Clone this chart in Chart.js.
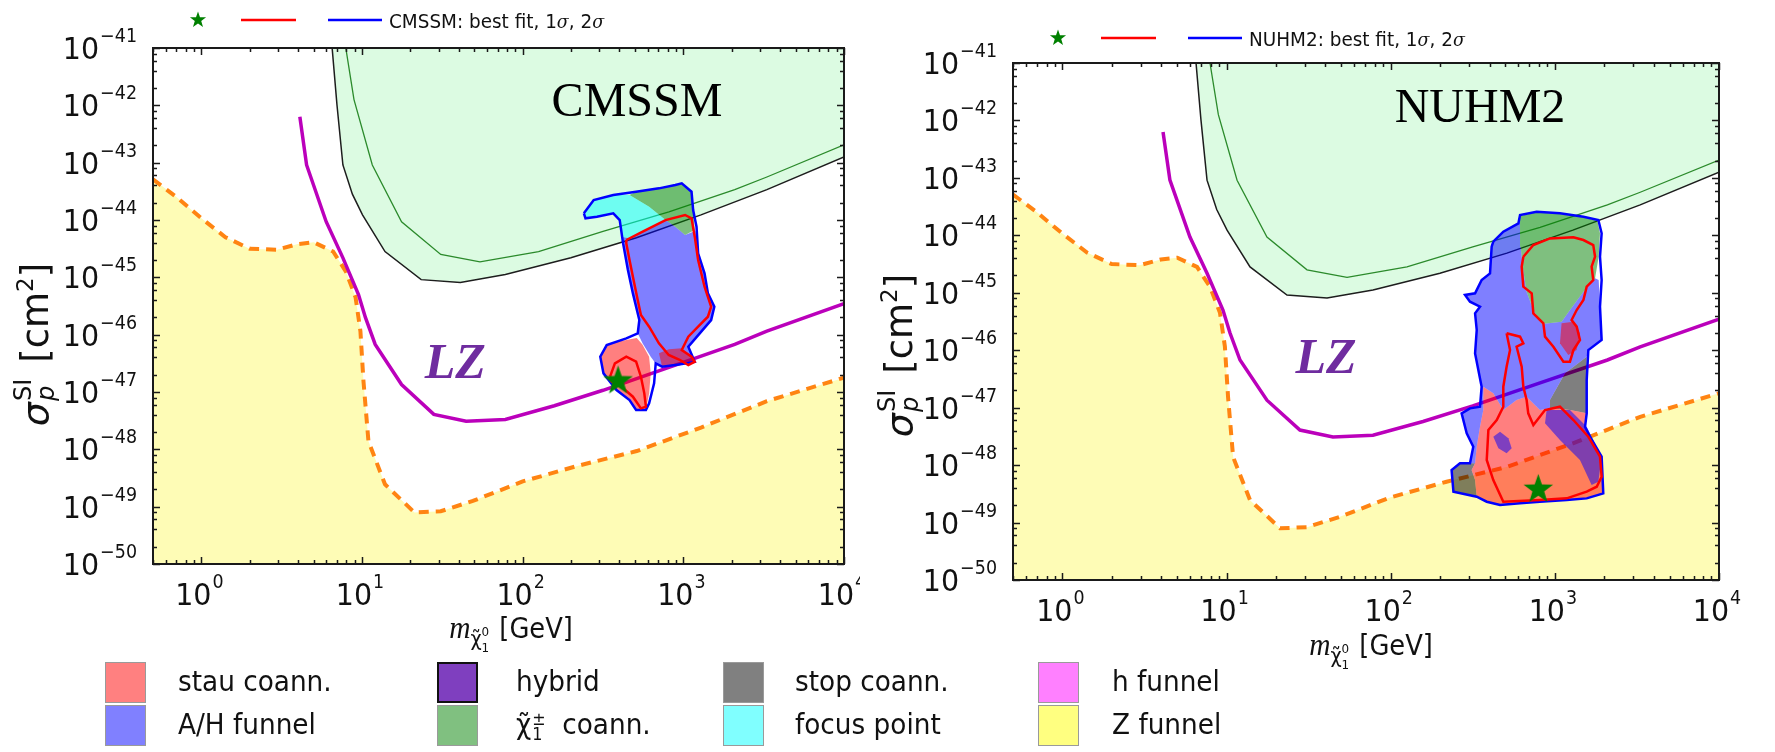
<!DOCTYPE html>
<html>
<head>
<meta charset="utf-8">
<script src="https://cdn.jsdelivr.net/npm/chart.js@4.4.1/dist/chart.umd.min.js"></script>
<style>
  html, body { margin: 0; padding: 0; background: #fff; width: 1775px; height: 752px; overflow: hidden; }
  body { position: relative; font-family: "DejaVu Sans", sans-serif; }
  canvas { position: absolute; top: 0; }
  #cmssm { left: 0; }
  #nuhm2 { left: 860px; }
  .sw { position: absolute; width: 41px; height: 41px; box-sizing: border-box; border: 1.5px solid #9a9a9a; }
  .lab { position: absolute; font-size: 28px; color: #111; line-height: 28px; white-space: nowrap;
         transform: scaleX(0.94); transform-origin: left center; }
  .ss { display: inline-block; vertical-align: -6px; font-size: 17px; line-height: 15px; margin-left: 1px; }
  .ss span { display: block; }
</style>
</head>
<body>
<canvas id="cmssm" width="860" height="752"></canvas>
<canvas id="nuhm2" width="915" height="752"></canvas>
<div id="legend"></div>
<script>
// all points are [log10(m / GeV), log10(sigma / cm^2)]

// limits shared by both panels
const lzLimit = [[0.613,-42.20],[0.655,-43.04],[0.777,-44.03],[0.881,-44.66],[0.978,-45.30],[1.021,-45.70],
  [1.082,-46.17],[1.246,-46.87],[1.447,-47.39],[1.648,-47.51],[1.892,-47.48],[2.197,-47.24],[2.50,-46.97],
  [2.91,-46.57],[3.32,-46.17],[3.52,-45.94],[4.0,-45.46]];
const zFunnelEdge = [[-0.301,-43.29],[-0.155,-43.60],[0.0,-43.97],[0.15,-44.30],[0.3,-44.50],[0.47,-44.52],
  [0.6,-44.42],[0.7,-44.39],[0.82,-44.55],[0.9,-44.9],[0.96,-45.35],[0.99,-45.94],[1.009,-46.81],[1.04,-47.86],
  [1.143,-48.61],[1.326,-49.10],[1.49,-49.08],[1.69,-48.90],[2.0,-48.56],[2.34,-48.29],[2.71,-48.03],
  [3.11,-47.62],[3.52,-47.16],[4.0,-46.75]];
const limitBlack = [[0.79,-40.8],[0.814,-41.0],[0.844,-41.99],[0.881,-43.04],[0.94,-43.55],[1.003,-43.91],
  [1.143,-44.55],[1.368,-45.04],[1.612,-45.09],[1.892,-44.95],[2.30,-44.66],[2.708,-44.31],[3.11,-43.91],
  [3.52,-43.47],[4.0,-42.90]];
const limitGreen = [[0.88,-40.8],[0.899,-41.0],[0.95,-41.9],[1.064,-43.04],[1.246,-44.03],[1.49,-44.60],
  [1.734,-44.73],[2.099,-44.55],[2.50,-44.20],[2.91,-43.86],[3.32,-43.47],[3.52,-43.25],[4.0,-42.69]];

// CMSSM
const cmssmStar = [[2.594,-46.79]];
const cmssmFocus = [[2.381,-43.884],[2.442,-43.652],[2.564,-43.564],[2.665,-43.564],[2.787,-43.768],
  [2.889,-44.001],[2.787,-44.146],[2.665,-44.320],[2.615,-44.291],[2.604,-44.001],[2.564,-43.884],
  [2.462,-43.942],[2.391,-43.971]];
const cmssmChargino = [[2.665,-43.564],[2.706,-43.506],[2.848,-43.448],[2.950,-43.390],[2.990,-43.361],
  [3.051,-43.506],[3.061,-43.826],[3.071,-44.175],[3.011,-44.262],[2.950,-44.117],[2.889,-44.001],[2.787,-43.768]];
const cmssmFunnel = [[2.615,-44.291],[2.665,-44.320],[2.787,-44.146],[2.889,-44.001],[2.950,-44.117],
  [3.011,-44.262],[3.076,-44.187],[3.092,-44.582],[3.132,-44.931],[3.153,-45.280],[3.193,-45.512],
  [3.173,-45.745],[3.102,-45.977],[3.031,-46.210],[3.071,-46.472],[3.021,-46.501],[2.950,-46.530],
  [2.868,-46.559],[2.828,-46.501],[2.797,-46.384],[2.747,-46.152],[2.716,-45.977],[2.726,-45.745],
  [2.686,-45.280],[2.655,-44.873],[2.625,-44.408]];
const cmssmStau = [[2.483,-46.384],[2.533,-46.152],[2.645,-46.094],[2.710,-46.06],[2.745,-46.17],[2.787,-46.384],
  [2.797,-46.675],[2.787,-47.024],[2.767,-47.303],[2.706,-47.315],[2.665,-47.140],[2.584,-46.966],[2.503,-46.675]];
const cmssmHybrid = [[2.848,-46.326],[2.909,-46.256],[2.990,-46.239],[3.051,-46.384],[3.071,-46.472],
  [3.021,-46.501],[2.950,-46.530],[2.868,-46.559]];
const cmssm2sigma = [[2.381,-43.884],[2.442,-43.652],[2.564,-43.564],[2.706,-43.506],[2.848,-43.448],
  [2.950,-43.390],[2.990,-43.361],[3.051,-43.506],[3.061,-43.826],[3.082,-44.117],[3.092,-44.582],
  [3.132,-44.931],[3.153,-45.280],[3.193,-45.512],[3.173,-45.745],[3.102,-45.977],[3.031,-46.210],
  [3.071,-46.472],[3.021,-46.501],[2.950,-46.530],[2.868,-46.559],[2.828,-46.501],[2.818,-46.850],
  [2.787,-47.198],[2.767,-47.315],[2.706,-47.315],[2.665,-47.140],[2.584,-46.966],[2.503,-46.675],
  [2.483,-46.384],[2.523,-46.181],[2.645,-46.064],[2.716,-45.977],[2.726,-45.745],[2.686,-45.280],
  [2.655,-44.873],[2.625,-44.408],[2.604,-44.001],[2.564,-43.884],[2.462,-43.942],[2.391,-43.971]];
const cmssm1sigmaA = [[2.645,-44.349],[2.747,-44.204],[2.889,-44.001],[3.011,-43.913],[3.051,-43.971],
  [3.071,-44.291],[3.092,-44.698],[3.132,-45.163],[3.173,-45.512],[3.153,-45.687],[3.092,-45.861],
  [3.031,-46.035],[2.990,-46.268],[3.051,-46.384],[3.071,-46.472],[3.031,-46.530],[2.980,-46.442],
  [2.909,-46.355],[2.848,-46.152],[2.787,-45.861],[2.736,-45.658],[2.716,-45.396],[2.686,-44.989],
  [2.665,-44.698],[2.645,-44.408]];
const cmssm1sigmaB = [[2.544,-46.733],[2.574,-46.501],[2.645,-46.384],[2.706,-46.472],[2.736,-46.733],
  [2.757,-47.024],[2.767,-47.256],[2.736,-47.285],[2.686,-47.082],[2.615,-46.908],[2.554,-46.821]];

// NUHM2
const nuhmStar = [[2.899,-48.405]];
const nuhmChargino = [[2.788,-43.664],[2.889,-43.600],[3.031,-43.629],[3.174,-43.687],[3.259,-43.745],
  [3.275,-43.965],[3.267,-44.372],[3.245,-44.749],[3.174,-44.981],[3.092,-45.300],[3.041,-45.503],
  [2.920,-45.544],[2.869,-45.300],[2.828,-44.981],[2.804,-44.546],[2.792,-44.198]];
const nuhmFunnel = [[2.788,-43.664],[2.778,-43.791],[2.686,-43.936],[2.625,-44.111],[2.615,-44.198],
  [2.605,-44.662],[2.554,-44.778],[2.514,-45.010],[2.453,-45.039],[2.483,-45.155],[2.544,-45.242],
  [2.514,-45.358],[2.524,-45.648],[2.514,-46.055],[2.554,-46.635],[2.544,-46.983],[2.483,-47.012],
  [2.432,-47.099],[2.463,-47.447],[2.503,-47.679],[2.483,-47.969],[2.514,-47.969],[2.524,-47.679],
  [2.544,-47.331],[2.564,-47.041],[2.564,-46.635],[2.625,-46.751],[2.686,-47.041],[2.767,-46.867],
  [2.828,-46.809],[2.909,-47.041],[2.970,-47.012],[2.970,-46.867],[3.062,-46.403],[3.194,-46.113],
  [3.204,-45.997],[3.285,-45.822],[3.275,-45.242],[3.267,-44.778],[3.245,-44.749],[3.174,-44.981],
  [3.092,-45.300],[3.041,-45.503],[2.920,-45.544],[2.869,-45.300],[2.828,-44.981],[2.804,-44.546],
  [2.792,-44.198]];
const nuhmStau = [[2.564,-46.635],[2.625,-46.751],[2.686,-47.041],[2.767,-46.867],[2.828,-46.809],
  [2.909,-47.041],[2.970,-47.012],[3.092,-47.041],[3.194,-47.099],[3.184,-47.331],[3.214,-47.505],
  [3.285,-47.853],[3.295,-48.492],[3.194,-48.579],[3.072,-48.608],[2.909,-48.637],[2.788,-48.666],
  [2.666,-48.695],[2.585,-48.637],[2.524,-48.550],[2.514,-48.260],[2.493,-48.086],[2.514,-47.969],
  [2.524,-47.679],[2.544,-47.331],[2.564,-47.041]];
const nuhmStopA = [[2.970,-47.012],[2.970,-46.867],[3.062,-46.403],[3.194,-46.113],[3.194,-47.099],[3.092,-47.041]];
const nuhmStopB = [[2.382,-48.463],[2.371,-48.086],[2.422,-47.969],[2.483,-47.969],[2.514,-47.969],
  [2.493,-48.086],[2.514,-48.260],[2.524,-48.550]];
const nuhmHybridA = [[2.950,-47.041],[3.092,-47.041],[3.194,-47.331],[3.285,-47.853],[3.265,-48.289],
  [3.224,-48.347],[3.153,-47.911],[3.031,-47.563],[2.940,-47.273]];
const nuhmHybridB = [[2.625,-47.505],[2.666,-47.418],[2.717,-47.534],[2.737,-47.708],[2.706,-47.795],[2.656,-47.708]];
const nuhmHybridC = [[3.041,-45.532],[3.113,-45.503],[3.153,-45.706],[3.133,-45.997],[3.082,-46.084],[3.031,-45.880]];
const nuhm2sigma = [[2.625,-44.111],[2.686,-43.936],[2.778,-43.791],[2.788,-43.646],[2.889,-43.588],
  [3.031,-43.617],[3.174,-43.675],[3.265,-43.733],[3.285,-43.965],[3.275,-44.372],[3.285,-44.778],
  [3.275,-45.242],[3.285,-45.822],[3.204,-45.997],[3.194,-46.519],[3.194,-47.099],[3.184,-47.331],
  [3.214,-47.505],[3.285,-47.853],[3.295,-48.492],[3.194,-48.579],[3.072,-48.608],[2.909,-48.637],
  [2.788,-48.666],[2.666,-48.695],[2.585,-48.637],[2.524,-48.550],[2.382,-48.463],[2.371,-48.086],
  [2.422,-47.969],[2.483,-47.969],[2.503,-47.679],[2.463,-47.447],[2.432,-47.099],[2.483,-47.012],
  [2.544,-46.983],[2.554,-46.635],[2.514,-46.055],[2.524,-45.648],[2.514,-45.358],[2.544,-45.242],
  [2.483,-45.155],[2.453,-45.039],[2.514,-45.010],[2.554,-44.778],[2.605,-44.662],[2.615,-44.198]];
const nuhm1sigmaA = [[2.808,-44.372],[2.869,-44.169],[2.970,-44.053],[3.113,-44.035],[3.174,-44.082],
  [3.234,-44.169],[3.245,-44.372],[3.224,-44.546],[3.234,-44.778],[3.194,-44.894],[3.174,-45.126],
  [3.133,-45.300],[3.102,-45.474],[3.133,-45.590],[3.153,-45.822],[3.113,-45.997],[3.092,-46.200],
  [3.052,-46.200],[2.991,-45.939],[2.940,-45.764],[2.930,-45.532],[2.869,-45.358],[2.859,-45.010],
  [2.808,-44.894],[2.798,-44.546]];
const nuhm1sigmaB = [[2.706,-45.706],[2.788,-45.764],[2.808,-45.880],[2.767,-45.939],[2.798,-46.287],
  [2.808,-46.635],[2.828,-46.867],[2.838,-47.099],[2.869,-47.302],[2.940,-47.041],[3.031,-46.983],
  [3.113,-47.215],[3.204,-47.505],[3.275,-47.853],[3.285,-48.202],[3.255,-48.376],[3.194,-48.463],
  [3.072,-48.579],[2.909,-48.608],[2.686,-48.637],[2.625,-48.260],[2.585,-47.911],[2.595,-47.389],
  [2.646,-47.215],[2.686,-46.983],[2.686,-46.635],[2.706,-46.287],[2.727,-45.997]];

// axes and legend
const xTickExps = [0, 1, 2, 3, 4];
const yTickExps = [-41, -42, -43, -44, -45, -46, -47, -48, -49, -50];
const legendLabels = ['stau coann.', 'A/H funnel', 'hybrid', 'chargino', 'stop coann.', 'focus point', 'h funnel', 'Z funnel'];
const legendColors = ['#ff8080', '#8080ff', '#7f3fbf', '#80c080', '#808080', '#80ffff', '#ff80ff', '#ffff80'];

const RED = 'rgba(255,0,0,0.5)', BLUE = 'rgba(0,0,255,0.5)', GREEN = 'rgba(0,128,0,0.5)',
      CYAN = 'rgba(0,255,255,0.5)', GREY = 'rgba(0,0,0,0.5)';

const toXY = arr => arr.map(([m, s]) => ({ x: 10 ** m, y: 10 ** s }));
const closed = arr => arr.concat([arr[0]]);

function fillSet(arr, color, order) {
  return { data: toXY(closed(arr)), fill: 'shape', backgroundColor: color, borderColor: 'transparent',
           borderWidth: 0, pointRadius: 0, order };
}
function lineSet(arr, color, width, order, close) {
  return { data: toXY(close ? closed(arr) : arr), fill: false, borderColor: color, borderWidth: width,
           pointRadius: 0, order };
}

function drawStar(ctx, cx, cy, R, r, color) {
  ctx.beginPath();
  for (let i = 0; i < 10; i++) {
    const rad = i % 2 ? r : R, ang = -Math.PI / 2 + i * Math.PI / 5;
    ctx.lineTo(cx + rad * Math.cos(ang), cy + rad * Math.sin(ang));
  }
  ctx.closePath();
  ctx.fillStyle = color;
  ctx.fill();
}
function starImage(size) {
  const c = document.createElement('canvas');
  c.width = c.height = size;
  drawStar(c.getContext('2d'), size / 2, size / 2 + 1, size / 2, size / 5, '#008000');
  return c;
}
const bigStar = starImage(31);

function sharedSets() {
  return [
    lineSet(lzLimit, '#bb00bb', 3.5, 17),
    lineSet(limitGreen, '#2b8a2b', 1.3, 18),
    { data: toXY(limitBlack), fill: 'end', backgroundColor: '#dcfbe2', borderColor: '#1d1d1d',
      borderWidth: 1.5, pointRadius: 0, order: 19 },
    { data: toXY(zFunnelEdge), fill: 'start', backgroundColor: '#fefcb6', borderColor: '#ff8412',
      borderWidth: 4, borderDash: [10, 7], pointRadius: 0, order: 20 }
  ];
}
function starSet(arr) {
  return { data: toXY(arr), showLine: false, pointStyle: bigStar, pointRadius: 15, order: 0 };
}

// text helpers (condensed like the original rendering)
function put(ctx, s, x, y, font, sx = 0.92) {
  ctx.font = font;
  const w = ctx.measureText(s).width * sx;
  ctx.fillText(s, x, y, w);
  return w;
}
function measure(ctx, s, font, sx = 0.92) { ctx.font = font; return ctx.measureText(s).width * sx; }

const BASE_FONT = '31px "DejaVu Sans"', EXP_FONT = '19px "DejaVu Sans"';
function power(ctx, exp, x, yBase, align) {
  const es = exp < 0 ? '\u2212' + (-exp) : String(exp);
  const w1 = measure(ctx, '10', BASE_FONT), w2 = measure(ctx, es, EXP_FONT);
  const x0 = align === 'center' ? x - (w1 + 1 + w2) / 2 : x - (w1 + 1 + w2);
  put(ctx, '10', x0, yBase, BASE_FONT);
  put(ctx, es, x0 + w1 + 1, yBase - 17, EXP_FONT);
}

const decor = {
  id: 'decor',
  afterDatasetsDraw(chart, args, o) {
    const { ctx, chartArea: a, scales: { x, y } } = chart;
    ctx.save();
    ctx.textAlign = 'left';
    ctx.textBaseline = 'alphabetic';

    // panel name and LZ tag
    ctx.fillStyle = '#000';
    ctx.font = '48px "Liberation Serif"';
    ctx.textAlign = 'center';
    ctx.fillText(o.title, a.left + o.titleDx, a.top + o.titleDy);
    ctx.font = 'italic bold 50px "Liberation Serif"';
    ctx.fillStyle = '#6f2c9f';
    ctx.textBaseline = 'middle';
    ctx.fillText('LZ', x.getPixelForValue(o.lzAt[0]), y.getPixelForValue(o.lzAt[1]));
    ctx.textAlign = 'left';
    ctx.textBaseline = 'alphabetic';

    // frame and inward ticks
    ctx.strokeStyle = '#1a1a1a';
    ctx.lineWidth = 2;
    ctx.strokeRect(a.left, a.top, a.right - a.left, a.bottom - a.top);
    ctx.lineWidth = 1.5;
    ctx.beginPath();
    const xt = (v, len) => {
      const px = Math.round(x.getPixelForValue(v)) + 0.5;
      ctx.moveTo(px, a.bottom); ctx.lineTo(px, a.bottom - len);
      ctx.moveTo(px, a.top); ctx.lineTo(px, a.top + len);
    };
    const yt = (v, len) => {
      const py = Math.round(y.getPixelForValue(v)) + 0.5;
      ctx.moveTo(a.left, py); ctx.lineTo(a.left + len, py);
      ctx.moveTo(a.right, py); ctx.lineTo(a.right - len, py);
    };
    xTickExps.forEach(e => xt(10 ** e, 7));
    for (let e = -1; e <= 3; e++) for (let k = 2; k <= 9; k++) {
      const v = k * 10 ** e;
      if (v >= x.min && v <= x.max) xt(v, 4);
    }
    yTickExps.forEach(e => yt(10 ** e, 7));
    for (let e = -50; e <= -42; e++) for (const k of [2, 4, 6, 8]) yt(k * 10 ** e, 4);
    ctx.stroke();

    // tick labels
    ctx.fillStyle = '#111';
    xTickExps.forEach(e => power(ctx, e, x.getPixelForValue(10 ** e) - 2, a.bottom + 41, 'center'));
    yTickExps.forEach(e => power(ctx, e, a.left - 16, y.getPixelForValue(10 ** e) + 11, 'right'));

    // x title: m_chi [GeV]
    {
      const f1 = 'italic 32px "Liberation Serif"', f2 = '21px "DejaVu Sans"', f3 = '13px "DejaVu Sans"', f4 = '28px "DejaVu Sans"';
      const wm = measure(ctx, 'm', f1), wc = measure(ctx, '\u03c7\u0303', f2), ws = measure(ctx, '0', f3), wg = measure(ctx, ' [GeV]', f4);
      let cx = a.left + o.xTitleDx - (wm + wc + ws + wg + 2) / 2;
      const by = a.bottom + o.xTitleDy;
      put(ctx, 'm', cx, by, f1); cx += wm;
      put(ctx, '\u03c7\u0303', cx, by + 8, f2); cx += wc;
      put(ctx, '0', cx, by - 2, f3);
      put(ctx, '1', cx, by + 14, f3); cx += ws + 2;
      put(ctx, ' [GeV]', cx, by, f4);
    }

    // y title: sigma_p^SI [cm^2]
    {
      ctx.save();
      ctx.translate(a.left + o.yTitleDx, a.top + o.yTitleDy);
      ctx.rotate(-Math.PI / 2);
      const f1 = 'italic 38px "DejaVu Sans"', f2 = '24px "DejaVu Sans"', f2i = 'italic 24px "DejaVu Sans"',
            f3 = '37px "DejaVu Sans"', f4 = '23px "DejaVu Sans"';
      const gap = 16;
      const w1 = measure(ctx, '\u03c3', f1, 1), w2 = measure(ctx, 'SI', f2, 1), w3 = measure(ctx, '[cm', f3, 1),
            w4 = measure(ctx, '2', f4, 1), w5 = measure(ctx, ']', f3, 1);
      let cx = -(w1 + w2 + gap + w3 + w4 + w5 + 2) / 2;
      const by = 10;
      put(ctx, '\u03c3', cx, by, f1, 1); cx += w1 + 1;
      put(ctx, 'SI', cx, by - 17, f2, 1);
      put(ctx, 'p', cx, by + 6, f2i, 1); cx += w2 + gap;
      put(ctx, '[cm', cx, by, f3, 1); cx += w3;
      put(ctx, '2', cx, by - 15, f4, 1); cx += w4;
      put(ctx, ']', cx, by, f3, 1);
      ctx.restore();
    }

    // top legend: best fit, 1 sigma, 2 sigma
    {
      const ly = o.legendY;
      drawStar(ctx, a.left + 45, ly, 8.5, 3.4, '#008000');
      ctx.lineWidth = 2.5;
      ctx.strokeStyle = '#ff0000';
      ctx.beginPath(); ctx.moveTo(a.left + 88, ly); ctx.lineTo(a.left + 143, ly); ctx.stroke();
      ctx.strokeStyle = '#0000ff';
      ctx.beginPath(); ctx.moveTo(a.left + 175, ly); ctx.lineTo(a.left + 229, ly); ctx.stroke();
      ctx.fillStyle = '#111';
      const fn = '20px "DejaVu Sans"', fi = 'italic 19px "DejaVu Serif"';
      let cx = a.left + 236;
      const by = ly + 8;
      cx += put(ctx, o.model + ': best fit, ', cx, by, fn);
      cx += put(ctx, '1', cx, by, fn);
      cx += put(ctx, '\u03c3', cx, by, fi);
      cx += put(ctx, ', ', cx, by, fn);
      cx += put(ctx, '2', cx, by, fn);
      put(ctx, '\u03c3', cx, by, fi);
    }
    ctx.restore();
  }
};

function makePanel(id, sets, o) {
  return new Chart(document.getElementById(id), {
    type: 'line',
    data: { datasets: sets.concat(sharedSets()) },
    options: {
      responsive: false,
      animation: false,
      events: [],
      layout: { padding: o.pad },
      elements: { point: { radius: 0 }, line: { tension: 0 } },
      scales: {
        x: { type: 'logarithmic', min: 0.5, max: 1e4, display: false },
        y: { type: 'logarithmic', min: 1e-50, max: 1e-41, display: false }
      },
      plugins: { legend: { display: false }, tooltip: { enabled: false }, decor: o }
    },
    plugins: [decor]
  });
}

makePanel('cmssm', [
  starSet(cmssmStar),
  lineSet(cmssm1sigmaA, '#ff0000', 2.5, 1, true),
  lineSet(cmssm1sigmaB, '#ff0000', 2.5, 1, true),
  lineSet(cmssm2sigma, '#0000ff', 2.5, 2, true),
  fillSet(cmssmHybrid, RED, 3),
  fillSet(cmssmFocus, CYAN, 4),
  fillSet(cmssmChargino, GREEN, 4),
  fillSet(cmssmFunnel, BLUE, 4),
  fillSet(cmssmStau, RED, 4)
], {
  model: 'CMSSM', title: 'CMSSM', titleDx: 484, titleDy: 68, legendY: 20,
  lzAt: [10 ** 1.58, 10 ** -46.53], xTitleDx: 358, xTitleDy: 74, yTitleDx: -115, yTitleDy: 296,
  pad: { left: 153, top: 48, right: 1, bottom: 188 }
});

makePanel('nuhm2', [
  starSet(nuhmStar),
  lineSet(nuhm1sigmaA, '#ff0000', 2.5, 1, true),
  lineSet(nuhm1sigmaB, '#ff0000', 2.5, 1, true),
  lineSet(nuhm2sigma, '#0000ff', 2.5, 2, true),
  fillSet(nuhmHybridA, BLUE, 3),
  fillSet(nuhmHybridB, BLUE, 3),
  fillSet(nuhmHybridC, RED, 3),
  fillSet(nuhmChargino, GREEN, 4),
  fillSet(nuhmFunnel, BLUE, 4),
  fillSet(nuhmStau, RED, 4),
  fillSet(nuhmStopA, GREY, 4),
  fillSet(nuhmStopB, GREY, 4)
], {
  model: 'NUHM2', title: 'NUHM2', titleDx: 467, titleDy: 59, legendY: 38,
  lzAt: [10 ** 1.606, 10 ** -46.17], xTitleDx: 358, xTitleDy: 75, yTitleDx: -111, yTitleDy: 292,
  pad: { left: 153, top: 63, right: 56, bottom: 172 }
});

// region legend under the panels
const colLeft = [105, 437, 723, 1038], textLeft = [178, 516, 795, 1112], rowTop = [662, 705];
const legend = document.getElementById('legend');
legendLabels.forEach((label, i) => {
  const c = Math.floor(i / 2), r = i % 2;
  const sw = document.createElement('div');
  sw.className = 'sw';
  sw.style.left = colLeft[c] + 'px';
  sw.style.top = rowTop[r] + 'px';
  sw.style.background = legendColors[i];
  if (label === 'hybrid') sw.style.border = '2px solid #111';
  legend.appendChild(sw);
  const t = document.createElement('div');
  t.className = 'lab';
  t.style.left = textLeft[c] + 'px';
  t.style.top = (rowTop[r] + 6) + 'px';
  if (label === 'chargino') {
    t.innerHTML = '\u03c7\u0303<span class="ss"><span>\u00b1</span><span>1</span></span>&nbsp; coann.';
  } else {
    t.textContent = label;
  }
  legend.appendChild(t);
});
</script>
</body>
</html>
